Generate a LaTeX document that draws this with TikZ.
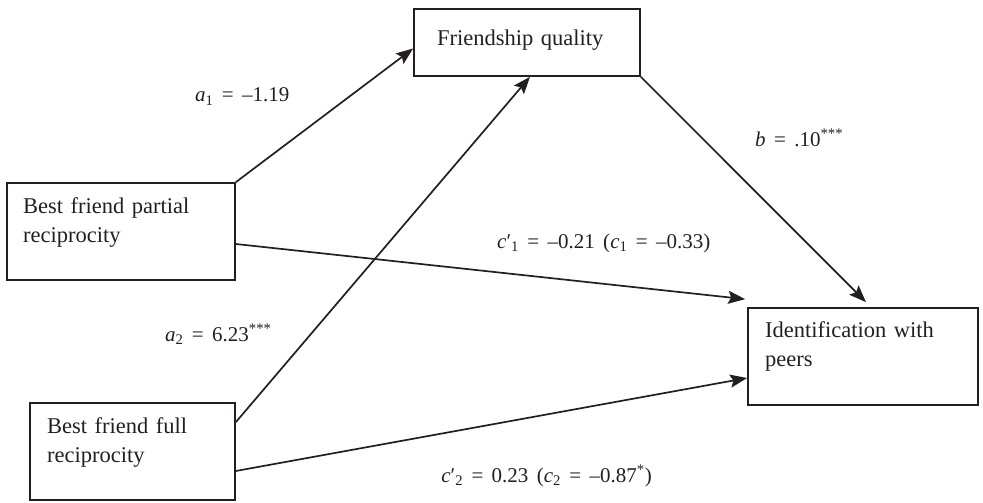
\documentclass[tikz,border=0pt]{standalone}
\usepackage{fontspec}
\setmainfont{Liberation Serif}
\usetikzlibrary{arrows.meta, positioning}
\definecolor{tinta}{HTML}{231F20}
\newcommand{\fuentecoef}{\fontsize{21}{24}\selectfont\spaceskip=0.4em\relax}
\tikzset{
  caja/.style={rectangle, draw=tinta, line width=1.7pt, inner sep=0pt},
  texto/.style={anchor=base west, inner sep=0pt, text width=220pt, align=left,
    text=tinta, font=\fontsize{22.5}{29}\selectfont},
  flecha/.style={-{Stealth[length=17pt, width=13pt, inset=3pt]}, line width=1.7pt, tinta},
  coef/.style={inner sep=0pt, text=tinta, font=\fuentecoef}
}

\begin{document}
\begin{tikzpicture}[x=1pt, y=-1pt]
  \useasboundingbox (0,0) rectangle (983,503);

  % --- Cajas ---
  \node[caja, minimum width=226, minimum height=67] (amistad) at (527,42.5) {};
  \node[caja, minimum width=228, minimum height=97] (parcial) at (121,231.5) {};
  \node[caja, minimum width=205, minimum height=97] (completa) at (132.5,451.5) {};
  \node[caja, minimum width=230, minimum height=97] (identif) at (863,356.5) {};

  \node[texto] (amistadtxt) at (437,46) {Friendship quality};
  \node[texto] (parcialtxt) at (23,213) {Best friend partial\\reciprocity};
  \node[texto] (completatxt) at (47,433) {Best friend full\\reciprocity};
  \node[texto] (identiftxt) at (765,337) {Identification with\\peers};

  % --- Flechas ---
  \draw[flecha] (parcial.north east) -- ([yshift=-6]amistad.west);
  \draw[flecha] ([yshift=-20]completa.north east) -- ([xshift=3]amistad.south);
  \draw[flecha] (amistad.south east) -- ([xshift=3,yshift=5]identif.north);
  \draw[flecha] ([yshift=-12.5]parcial.east) -- ([xshift=-2,yshift=8]identif.north west);
  \draw[flecha] ([yshift=-19.5]completa.east) -- ([yshift=-21.5]identif.west);

  % --- Coeficientes ---
  \node[coef, anchor=base west] (a1) at (195,102) {\textit{a}\textsubscript{1} = –1.19};
  \node[coef, anchor=base west] (a2) at (165,341) {\textit{a}\textsubscript{2} = 6.23\textsuperscript{***}};
  \node[coef, anchor=base west] (b) at (755,146) {\textit{b} = .10\textsuperscript{***}};
  \node[coef, anchor=base west] (c1) at (497,248) {\textit{c}′\textsubscript{1} = –0.21 (\textit{c}\textsubscript{1} = –0.33)};
  \node[coef, anchor=base east] (c2) at (652,482) {\textit{c}′\textsubscript{2} = 0.23 (\textit{c}\textsubscript{2} = –0.87\textsuperscript{*})};

\end{tikzpicture}
\end{document}
